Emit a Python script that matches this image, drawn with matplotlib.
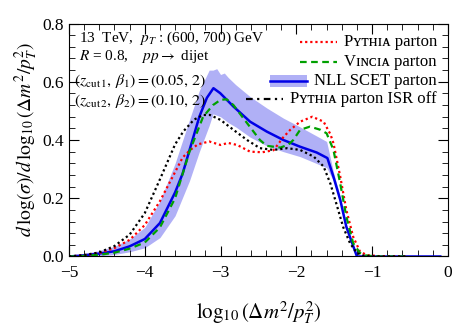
import numpy as np
import matplotlib
matplotlib.use("Agg")
import matplotlib.pyplot as plt
from matplotlib.patches import Rectangle
from matplotlib.ticker import MultipleLocator

plt.rcParams['font.family'] = ['Liberation Serif', 'DejaVu Serif']
plt.rcParams['mathtext.fontset'] = 'stix'

# Pythia parton (red dotted)
x_pyt = [-5.0, -4.8, -4.6, -4.4, -4.2, -4.0, -3.8, -3.6, -3.5, -3.4, -3.3, -3.15, -3.0, -2.9,
         -2.78, -2.61, -2.45, -2.3, -2.17, -2.08, -1.95, -1.79, -1.64, -1.55, -1.51, -1.42,
         -1.34, -1.25, -1.16, -1.07, -0.9, -0.55]
y_pyt = [0.0, 0.004, 0.012, 0.029, 0.057, 0.108, 0.19, 0.29, 0.34, 0.366, 0.385, 0.395, 0.383,
         0.39, 0.383, 0.36, 0.358, 0.365, 0.41, 0.435, 0.463, 0.48, 0.463, 0.42, 0.389, 0.274,
         0.16, 0.068, 0.017, 0.005, 0.001, 0.0]

# Vincia parton (green dashed)
x_vin = [-5.0, -4.8, -4.6, -4.4, -4.2, -4.0, -3.8, -3.6, -3.41, -3.23, -3.1, -3.0, -2.92, -2.83,
         -2.65, -2.48, -2.39, -2.21, -2.1, -2.04, -1.95, -1.82, -1.68, -1.6, -1.51, -1.42,
         -1.34, -1.25, -1.16, -1.07, -0.9, -0.55]
y_vin = [0.0, 0.002, 0.006, 0.013, 0.027, 0.048, 0.10, 0.20, 0.36, 0.48, 0.52, 0.538, 0.54, 0.52,
         0.458, 0.40, 0.38, 0.374, 0.385, 0.40, 0.435, 0.446, 0.435, 0.423, 0.366, 0.25,
         0.137, 0.046, 0.012, 0.003, 0.0, 0.0]

# NLL SCET parton (blue solid) with uncertainty band
x_nll = [-5.0, -4.8, -4.6, -4.4, -4.2, -4.0, -3.8, -3.6, -3.5, -3.41, -3.28, -3.18, -3.094,
         -3.005, -2.83, -2.61, -2.39, -2.17, -1.95, -1.73, -1.59, -1.51, -1.42, -1.34, -1.2, -0.1]
y_nll = [0.0, 0.004, 0.01, 0.018, 0.035, 0.06, 0.115, 0.22, 0.285, 0.365, 0.48, 0.545, 0.578,
         0.561, 0.515, 0.463, 0.429, 0.40, 0.377, 0.357, 0.338, 0.274, 0.194, 0.102, 0.0, 0.0]

x_band = [-5.0, -4.8, -4.6, -4.4, -4.2, -4.0, -3.8, -3.6, -3.41, -3.28, -3.15, -3.1, -3.05, -3.0,
          -2.95, -2.9, -2.8, -2.61, -2.39, -2.17, -1.95, -1.6, -1.51, -1.42, -1.34, -1.2, -0.1]
band_lo = [0.0, 0.0, 0.002, 0.007, 0.016, 0.03, 0.065, 0.14, 0.26, 0.36, 0.45, 0.49, 0.485, 0.48,
           0.47, 0.46, 0.445, 0.41, 0.38, 0.36, 0.343, 0.305, 0.26, 0.185, 0.095, 0.0, 0.0]
band_hi = [0.0, 0.01, 0.02, 0.035, 0.06, 0.10, 0.19, 0.32, 0.47, 0.57, 0.64, 0.64, 0.645, 0.625,
           0.63, 0.615, 0.59, 0.549, 0.51, 0.475, 0.445, 0.395, 0.29, 0.205, 0.11, 0.0, 0.0]

# Pythia parton ISR off (black dash-dot)
x_isr = [-5.0, -4.8, -4.6, -4.4, -4.2, -4.0, -3.8, -3.6, -3.49, -3.35, -3.23, -3.14, -3.0, -2.83,
         -2.65, -2.48, -2.3, -2.12, -1.95, -1.77, -1.64, -1.55, -1.46, -1.38, -1.29, -1.2,
         -1.1, -0.9, -0.55]
y_isr = [0.0, 0.005, 0.014, 0.036, 0.075, 0.149, 0.265, 0.385, 0.43, 0.47, 0.486, 0.486, 0.469,
         0.435, 0.40, 0.372, 0.366, 0.372, 0.366, 0.343, 0.309, 0.25, 0.171, 0.10, 0.045,
         0.012, 0.002, 0.0, 0.0]

labels = ['P\u028f\u1d1b\u029c\u026a\u1d00 parton', 'V\u026a\u0274\u1d04\u026a\u1d00 parton',
          'NLL SCET parton', 'P\u028f\u1d1b\u029c\u026a\u1d00 parton ISR off']

fig = plt.figure(figsize=(4.57, 3.27), dpi=100)
ax = fig.add_axes([0.151, 0.2156, 0.829, 0.7124])

band_col = '#b0b0f6'
blue = '#0000e6'
green = '#00a000'
ax.fill_between(x_band, band_lo, band_hi, color=band_col, lw=0)
ax.plot(x_nll, y_nll, color=blue, lw=1.8)
ax.plot(x_pyt, y_pyt, color='red', lw=1.6, ls=(0, (1, 1.3)))
ax.plot(x_vin, y_vin, color=green, lw=1.6, ls=(0, (3, 2)))
ax.plot(x_isr, y_isr, color='black', lw=1.6, ls=(0, (1, 1.3)))

ax.set_xlim(-5, 0)
ax.set_ylim(0, 0.8)
ax.xaxis.set_major_locator(MultipleLocator(1))
ax.xaxis.set_minor_locator(MultipleLocator(0.2))
ax.yaxis.set_major_locator(MultipleLocator(0.2))
ax.yaxis.set_minor_locator(MultipleLocator(0.04))
ax.tick_params(which='both', direction='in', top=True, right=True, labelsize=12.5)
ax.tick_params(which='major', length=7)
ax.tick_params(which='minor', length=4)
ax.tick_params(axis='x', pad=6)
ax.xaxis.set_major_formatter(plt.FuncFormatter(lambda v, p: ('%d' % round(v)).replace('-', '\u2212')))
ax.yaxis.set_major_formatter(plt.FuncFormatter(lambda v, p: '%.1f' % v))

ax.set_xlabel(r'$\log_{10}(\Delta m^2/p_T^2)$', fontsize=15, labelpad=13)
ax.set_ylabel(r'$d\,\log(\sigma)/d\,\log_{10}(\Delta m^2/p_T^2)$', fontsize=14, labelpad=2)

ax.text(0.027, 0.972, r'13  TeV,  $p_T$ : (600, 700) GeV', transform=ax.transAxes,
        fontsize=11, va='top')
ax.text(0.027, 0.897, r'$R$ = 0.8,    $pp \rightarrow$ dijet', transform=ax.transAxes,
        fontsize=11, va='top')
ax.text(0.012, 0.79, r'$(z_{\mathrm{cut}\,1},\,\beta_1) = (0.05,\,2)$', transform=ax.transAxes,
        fontsize=11.5, va='top')
ax.text(0.012, 0.708, r'$(z_{\mathrm{cut}\,2},\,\beta_2) = (0.10,\,2)$', transform=ax.transAxes,
        fontsize=11.5, va='top')

# legend with right-aligned rows, built by hand
renderer = fig.canvas.get_renderer()
inv = ax.transAxes.inverted()
row_y = [0.921, 0.837, 0.755, 0.676]
styles = [dict(color='red', lw=1.6, ls=(0, (1, 1.3))),
          dict(color=green, lw=1.6, ls=(0, (3, 2))),
          dict(color=blue, lw=1.8),
          dict(color='black', lw=1.6, ls=(0, (3, 2, 1, 2)))]
for i, (lab, yc, st) in enumerate(zip(labels, row_y, styles)):
    t = ax.text(0.971, yc, lab, transform=ax.transAxes, ha='right', va='center', fontsize=12)
    bb = t.get_window_extent(renderer)
    x1 = inv.transform((bb.x0 - 7, 0))[0]
    x0 = inv.transform((bb.x0 - 44, 0))[0]
    if i == 2:
        h = 12 / ax.bbox.height
        ax.add_patch(Rectangle((x0, yc - h / 2), x1 - x0, h, transform=ax.transAxes,
                               color=band_col, lw=0))
    ax.plot([x0, x1], [yc, yc], transform=ax.transAxes, **st)

fig.savefig('out.png', dpi=100)
